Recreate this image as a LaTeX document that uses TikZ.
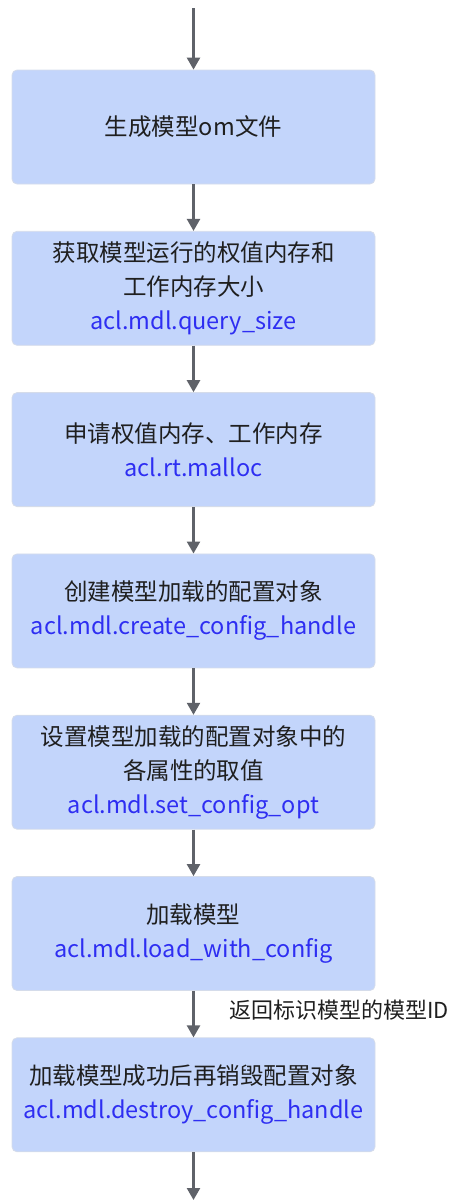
\documentclass[tikz,border=0pt]{standalone}
\usepackage{fontspec}
\setmainfont{Noto Sans CJK SC}
\usetikzlibrary{arrows.meta,positioning}
\definecolor{boxfill}{HTML}{C3D5FB}
\definecolor{boxline}{HTML}{D5DCEA}
\definecolor{apiblue}{HTML}{2E2EF2}
\definecolor{flowgray}{HTML}{5F6269}
\newcommand{\api}[1]{\textcolor{apiblue}{#1}}

\begin{document}
\begin{tikzpicture}[
  x=1pt, y=1pt,
  node distance=46.5pt,
  stepbox/.style={draw=boxline, line width=0.8pt, fill=boxfill, rounded corners=5pt,
    minimum width=363pt, minimum height=114pt, align=center,
    font=\fontsize{23.5pt}{34pt}\selectfont, text=black!88},
  flow/.style={draw=flowgray, line width=2.4pt, -{Triangle[width=13pt,length=12pt]}}
]
\useasboundingbox (0,0) rectangle (448,-1200);

\node[stepbox] (genom) at (193.5,-127) {生成模型om文件};
\node[stepbox, below=of genom] (qsize) {获取模型运行的权值内存和\\工作内存大小\\\api{acl.mdl.query\_size}};
\node[stepbox, below=of qsize] (malloc) {申请权值内存、工作内存\\\api{acl.rt.malloc}};
\node[stepbox, below=of malloc] (create) {创建模型加载的配置对象\\\api{acl.mdl.create\_config\_handle}};
\node[stepbox, below=of create] (setopt) {设置模型加载的配置对象中的\\各属性的取值\\\api{acl.mdl.set\_config\_opt}};
\node[stepbox, below=of setopt] (load) {加载模型\\\api{acl.mdl.load\_with\_config}};
\node[stepbox, below=of load] (destroy) {加载模型成功后再销毁配置对象\\\api{acl.mdl.destroy\_config\_handle}};

\coordinate (start) at (193.5,-8);
\coordinate (finish) at (193.5,-1200);

\draw[flow] (start) -- (genom);
\draw[flow] (genom) -- (qsize);
\draw[flow] (qsize) -- (malloc);
\draw[flow] (malloc) -- (create);
\draw[flow] (create) -- (setopt);
\draw[flow] (setopt) -- (load);
\draw[flow] (load) -- node[anchor=west, xshift=31pt, yshift=4pt, font=\fontsize{22pt}{26pt}\selectfont, text=black!88] (retid) {返回标识模型的模型ID} (destroy);
\draw[flow] (destroy) -- (finish);

\end{tikzpicture}
\end{document}
